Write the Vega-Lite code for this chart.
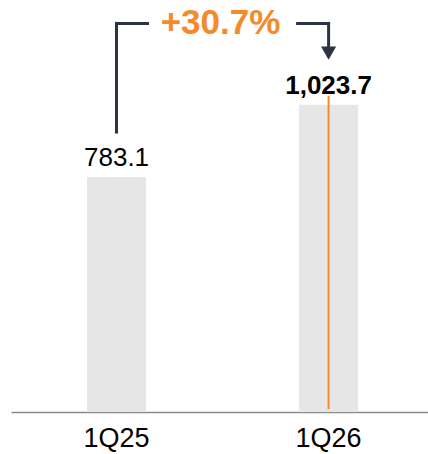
{
  "$schema": "https://vega.github.io/schema/vega-lite/v6.json",
  "width": 417,
  "height": 412,
  "autosize": {"type": "none"},
  "padding": {"left": 11, "top": 0, "right": 0, "bottom": 42},
  "background": "white",
  "config": {"view": {"stroke": null}, "font": "Liberation Sans"},
  "layer": [
    {
      "data": {"values": [{"q": "1Q25", "v": 783.1}, {"q": "1Q26", "v": 1023.7}]},
      "mark": {"type": "bar", "color": "#e6e6e6"},
      "encoding": {
        "x": {
          "field": "q", "type": "nominal", "sort": null,
          "scale": {"paddingInner": 0.7217, "paddingOuter": 0.344, "align": 0.521},
          "axis": {"title": null, "labelAngle": 0, "ticks": false, "grid": false, "domainColor": "#8c8c8c", "domainWidth": 1.5, "labelFontSize": 27, "labelColor": "#000000", "labelPadding": 13, "labelFont": "Liberation Sans"}
        },
        "y": {"field": "v", "type": "quantitative", "scale": {"domain": [0, 1373], "nice": false, "zero": true}, "axis": null}
      }
    },
    {
      "data": {"values": [{"q": "1Q25", "v": 783.1}]},
      "mark": {"type": "text", "fontSize": 26, "baseline": "alphabetic", "align": "center", "dy": -11, "color": "#000000"},
      "encoding": {
        "x": {"field": "q", "type": "nominal", "sort": null},
        "y": {"field": "v", "type": "quantitative"},
        "text": {"field": "v", "type": "quantitative", "format": ",.1f"}
      }
    },
    {
      "data": {"values": [{"q": "1Q26", "v": 1023.7}]},
      "mark": {"type": "text", "fontSize": 26, "fontWeight": "bold", "baseline": "alphabetic", "align": "center", "dy": -11, "color": "#000000"},
      "encoding": {
        "x": {"field": "q", "type": "nominal", "sort": null},
        "y": {"field": "v", "type": "quantitative"},
        "text": {"field": "v", "type": "quantitative", "format": ",.1f"}
      }
    },
    {
      "data": {"values": [{"q": "1Q26", "lo": 10, "hi": 1053}]},
      "mark": {"type": "rule", "color": "#f58a2b", "strokeWidth": 2},
      "encoding": {
        "x": {"field": "q", "type": "nominal", "sort": null},
        "y": {"field": "lo", "type": "quantitative"},
        "y2": {"field": "hi"}
      }
    },
    {
      "data": {"values": [{"q": "1Q25", "lo": 933, "hi": 1295}, {"q": "1Q26", "lo": 1216, "hi": 1295}]},
      "mark": {"type": "rule", "color": "#2c3444", "strokeWidth": 3, "strokeCap": "square"},
      "encoding": {
        "x": {"field": "q", "type": "nominal", "sort": null},
        "y": {"field": "lo", "type": "quantitative"},
        "y2": {"field": "hi"}
      }
    },
    {
      "data": {"values": [{"q": "1Q25", "y": 1295}]},
      "mark": {"type": "rule", "color": "#2c3444", "strokeWidth": 3, "strokeCap": "square", "x2Offset": 31},
      "encoding": {
        "x": {"field": "q", "type": "nominal", "sort": null},
        "x2": {"field": "q"},
        "y": {"field": "y", "type": "quantitative"}
      }
    },
    {
      "data": {"values": [{"q": "1Q26", "y": 1295}]},
      "mark": {"type": "rule", "color": "#2c3444", "strokeWidth": 3, "strokeCap": "square", "xOffset": -31},
      "encoding": {
        "x": {"field": "q", "type": "nominal", "sort": null},
        "x2": {"field": "q"},
        "y": {"field": "y", "type": "quantitative"}
      }
    },
    {
      "data": {"values": [{"q": "1Q26", "y": 1196}]},
      "mark": {"type": "point", "shape": "triangle-down", "filled": true, "size": 230, "color": "#2c3444", "opacity": 1},
      "encoding": {
        "x": {"field": "q", "type": "nominal", "sort": null},
        "y": {"field": "y", "type": "quantitative"}
      }
    },
    {
      "data": {"values": [{"q": "1Q25", "t": "+30.7%", "y": 1295}]},
      "mark": {"type": "text", "fontSize": 35, "fontWeight": "bold", "color": "#f58a2b", "baseline": "alphabetic", "align": "center", "dx": 104, "dy": 11},
      "encoding": {
        "x": {"field": "q", "type": "nominal", "sort": null},
        "y": {"field": "y", "type": "quantitative"},
        "text": {"field": "t"}
      }
    }
  ]
}
